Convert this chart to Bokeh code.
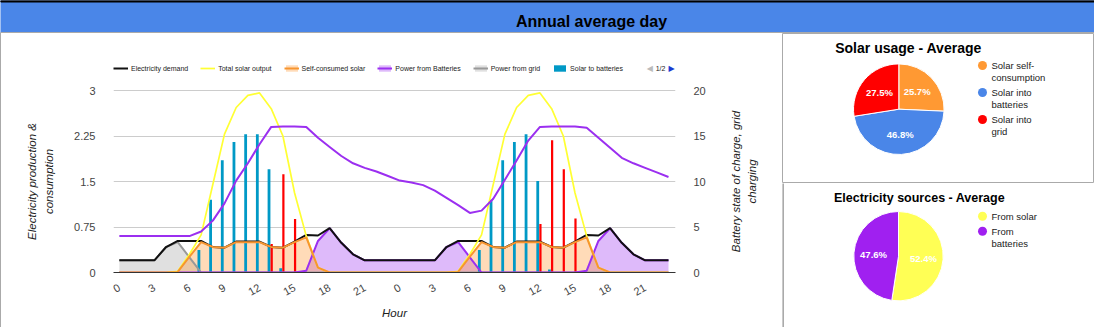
import math
from bokeh.plotting import figure
from bokeh.models import (Range1d, LinearAxis, FixedTicker, Legend, LegendItem,
                          ColumnDataSource, Spacer, NumeralTickFormatter)
from bokeh.layouts import column, row
from bokeh.transform import dodge
from bokeh.embed import file_html
from bokeh.resources import INLINE
from bokeh.core.properties import value

FONT = "Liberation Sans"

# ---------------- data ----------------
hours = list(range(48))
demand = [0.2, 0.2, 0.2, 0.2, 0.42, 0.52, 0.52, 0.52, 0.42, 0.41, 0.51, 0.51, 0.51, 0.42, 0.41, 0.51,
          0.62, 0.61, 0.73, 0.49, 0.3, 0.2, 0.2, 0.2,
          0.2, 0.2, 0.2, 0.2, 0.42, 0.52, 0.52, 0.52, 0.42, 0.41, 0.51, 0.51, 0.51, 0.42, 0.41, 0.51,
          0.62, 0.61, 0.73, 0.49, 0.3, 0.2, 0.2, 0.2]
solar_total = [0, 0, 0, 0, 0, 0.02, 0.3, 0.62, 1.45, 2.28, 2.72, 2.92, 2.96, 2.7, 2.25, 1.31,
               0.6, 0.08, 0, 0, 0, 0, 0, 0,
               0, 0, 0, 0, 0, 0.02, 0.3, 0.62, 1.45, 2.28, 2.72, 2.92, 2.96, 2.7, 2.25, 1.31,
               0.6, 0.08, 0, 0, 0, 0, 0, 0]
self_consumed = [0, 0, 0, 0, 0, 0.01, 0.26, 0.5, 0.42, 0.41, 0.5, 0.5, 0.5, 0.42, 0.41, 0.5,
                 0.58, 0.08, 0, 0, 0, 0, 0, 0,
                 0, 0, 0, 0, 0, 0.01, 0.26, 0.5, 0.42, 0.41, 0.5, 0.5, 0.5, 0.42, 0.41, 0.5,
                 0.58, 0.08, 0, 0, 0, 0, 0, 0]
from_batteries = [0, 0, 0, 0, 0, 0, 0, 0, 0, 0, 0, 0, 0, 0, 0, 0,
                  0.03, 0.52, 0.73, 0.49, 0.3, 0.2, 0.2, 0.2,
                  0.2, 0.2, 0.2, 0.2, 0.42, 0.5, 0.25, 0, 0, 0, 0, 0, 0, 0, 0, 0,
                  0.03, 0.52, 0.73, 0.49, 0.3, 0.2, 0.2, 0.2]
from_grid = [0.2, 0.2, 0.2, 0.2, 0.42, 0.5, 0.25, 0, 0, 0, 0, 0, 0, 0, 0, 0,
             0, 0, 0, 0, 0, 0, 0, 0,
             0, 0, 0, 0, 0, 0, 0, 0, 0, 0, 0, 0, 0, 0, 0, 0,
             0, 0, 0, 0, 0, 0, 0, 0]
solar_to_batteries = [0, 0, 0, 0, 0, 0, 0, 0.37, 1.2, 1.85, 2.15, 2.28, 2.28, 1.7, 0.07, 0,
                      0, 0, 0, 0, 0, 0, 0, 0,
                      0, 0, 0, 0, 0, 0, 0, 0.37, 1.2, 1.85, 2.15, 2.28, 1.51, 0.05, 0, 0,
                      0, 0, 0, 0, 0, 0, 0, 0]
solar_to_grid = [0, 0, 0, 0, 0, 0, 0, 0, 0, 0, 0, 0, 0, 0.47, 1.62, 0.88,
                 0, 0, 0, 0, 0, 0, 0, 0,
                 0, 0, 0, 0, 0, 0, 0, 0, 0, 0, 0, 0, 0.8, 2.18, 1.7, 0.89,
                 0, 0, 0, 0, 0, 0, 0, 0]
battery_soc = [4.0, 4.0, 4.0, 4.0, 4.0, 4.0, 4.0, 4.5, 5.7, 7.6, 10.1, 12.0, 14.1, 16.0, 16.05, 16.05,
               16.0, 14.8, 13.8, 12.8, 12.0, 11.5, 11.1, 10.6,
               10.1, 9.9, 9.6, 9.0, 8.2, 7.4, 6.55, 6.8, 8.1, 10.2, 12.3, 14.5, 16.0, 16.05, 16.05, 16.05,
               15.9, 14.8, 13.7, 12.6, 12.0, 11.5, 11.0, 10.5]

x_ticks = [0, 3, 6, 9, 12, 15, 18, 21, 24, 27, 30, 33, 36, 39, 42, 45]
x_tick_labels = ["0", "3", "6", "9", "12", "15", "18", "21", "0", "3", "6", "9", "12", "15", "18", "21"]
y_ticks = [0, 0.75, 1.5, 2.25, 3]
y2_ticks = [0, 5, 10, 15, 20]

series_names = ["Electricity demand", "Total solar output", "Self-consumed solar",
                "Power from Batteries", "Power from grid", "Solar to batteries"]
y_title = "Electricity production &\nconsumption"
y2_title = "Battery state of charge, grid\ncharging"
x_title = "Hour"

usage_labels = ["Solar self-\nconsumption", "Solar into\nbatteries", "Solar into\ngrid"]
usage_values = [25.7, 46.8, 27.5]
usage_colors = ["#ff9933", "#4a86e8", "#ff0000"]
sources_labels = ["From solar", "From\nbatteries"]
sources_values = [52.4, 47.6]
sources_colors = ["#ffff55", "#a020f0"]

# ---------------- colors ----------------
C_BLACK = "#111111"
C_YELLOW = "#ffff33"
C_ORANGE = "#f7952f"
C_ORANGE_FILL = "#ff9933"
C_PURPLE = "#9b2ff0"
C_GRAY = "#999999"
C_BLUE = "#0099c6"
C_RED = "#ff0000"

src = ColumnDataSource(dict(h=hours, demand=demand, solar=solar_total, selfc=self_consumed,
                            batt=from_batteries, grid=from_grid, s2b=solar_to_batteries,
                            s2g=solar_to_grid, soc=battery_soc))

# ---------------- geometry (page pixels) ----------------
PANEL_TOP, PANEL_BOTTOM = 33, 327
FRAME_TOP, FRAME_BOTTOM = 56, 272      # plot frame (extra room on top holds the legend)
GRID_TOP = 90                          # pixel row of the "3" gridline
Y_MAX = 3 * (FRAME_BOTTOM - FRAME_TOP) / (FRAME_BOTTOM - GRID_TOP)
Y2_MAX = 20 / 3 * Y_MAX
PH = PANEL_BOTTOM - PANEL_TOP
LEFT_W, P_W, RIGHT_W = 61, 658, 62
MB_TOP, MB_BOTTOM = FRAME_TOP - PANEL_TOP, PANEL_BOTTOM - FRAME_BOTTOM

# ---------------- main chart ----------------
p = figure(width=P_W, height=PH, x_range=Range1d(-0.5, 47.6), y_range=Range1d(0, Y_MAX),
           output_backend="svg", toolbar_location=None,
           min_border_left=51, min_border_right=45, min_border_top=MB_TOP,
           min_border_bottom=MB_BOTTOM, outline_line_color=None)
p.extra_y_ranges = {"soc": Range1d(0, Y2_MAX)}

a_grid = p.varea(x="h", y1=0, y2="grid", source=src, fill_color=C_GRAY, fill_alpha=0.3)
a_batt = p.varea(x="h", y1=0, y2="batt", source=src, fill_color=C_PURPLE, fill_alpha=0.33)
a_self = p.varea(x="h", y1=0, y2="selfc", source=src, fill_color=C_ORANGE_FILL, fill_alpha=0.35)

b_s2b = p.vbar(x=dodge("h", -0.19, range=p.x_range), top="s2b", width=0.24, source=src,
               fill_color=C_BLUE, line_color=None)
p.vbar(x=dodge("h", 0.04, range=p.x_range), top="s2g", width=0.19, source=src,
       fill_color=C_RED, line_color=None)

l_grid = p.line(x="h", y="grid", source=src, line_color=C_GRAY, line_width=2)
l_batt = p.line(x="h", y="batt", source=src, line_color=C_PURPLE, line_width=2)
l_dem = p.line(x="h", y="demand", source=src, line_color=C_BLACK, line_width=2)
l_sol = p.line(x="h", y="solar", source=src, line_color=C_YELLOW, line_width=1.7)
l_self = p.line(x="h", y="selfc", source=src, line_color=C_ORANGE, line_width=2)
p.line(x="h", y="soc", source=src, line_color=C_PURPLE, line_width=2, y_range_name="soc")

# axes
p.xaxis.ticker = FixedTicker(ticks=x_ticks)
p.xaxis.major_label_overrides = dict(zip(x_ticks, x_tick_labels))
p.xaxis.major_label_orientation = math.pi / 6
p.xaxis.axis_label = x_title
p.xaxis.axis_line_color = "#333333"
p.xaxis.major_tick_line_color = None
p.xaxis.minor_tick_line_color = None
p.xaxis.major_label_standoff = 8
p.xaxis.axis_label_standoff = 4

p.yaxis.ticker = FixedTicker(ticks=y_ticks)
p.yaxis.formatter = NumeralTickFormatter(format="0.[00]")
p.yaxis.axis_line_color = None
p.yaxis.major_tick_line_color = None
p.yaxis.minor_tick_line_color = None
p.yaxis.major_label_standoff = 12

ax2 = LinearAxis(y_range_name="soc", ticker=FixedTicker(ticks=y2_ticks))
ax2.axis_line_color = None
ax2.major_tick_line_color = None
ax2.minor_tick_line_color = None
ax2.major_label_standoff = 12
p.add_layout(ax2, "right")

for ax in [p.xaxis[0], p.yaxis[0], ax2]:
    ax.major_label_text_font = FONT
    ax.major_label_text_font_size = "11px"
    ax.major_label_text_color = "#444444"
    ax.axis_label_text_font = FONT
    ax.axis_label_text_font_size = "11.5px"
    ax.axis_label_text_font_style = "italic"
    ax.axis_label_text_color = "#222222"

p.xgrid.visible = False
p.ygrid.ticker = FixedTicker(ticks=y_ticks)
p.ygrid.grid_line_color = "#cccccc"

legend = Legend(items=[
    LegendItem(label=series_names[0], renderers=[l_dem]),
    LegendItem(label=series_names[1], renderers=[l_sol]),
    LegendItem(label=series_names[2], renderers=[a_self, l_self]),
    LegendItem(label=series_names[3], renderers=[a_batt, l_batt]),
    LegendItem(label=series_names[4], renderers=[a_grid, l_grid]),
    LegendItem(label=series_names[5], renderers=[b_s2b]),
], orientation="horizontal", location=(0, 200), glyph_width=15, glyph_height=8,
    label_text_font=FONT, label_text_font_size="7px", label_text_color="#222222",
    label_standoff=3, spacing=12, padding=0, margin=0, border_line_color=None,
    background_fill_alpha=0, label_height=8)
p.add_layout(legend)

pager_y = 3 * (FRAME_BOTTOM - 68) / (FRAME_BOTTOM - GRID_TOP)
p.text(x=[45.15], y=[pager_y], text=["\u25c0"], text_color="#bbbbbb", text_font_size="8px",
       text_font=value("DejaVu Sans"), text_baseline="middle", text_align="left")
p.text(x=[45.9], y=[pager_y], text=["1/2"], text_color="#222222", text_font_size="7px",
       text_font=value(FONT), text_baseline="middle", text_align="left")
p.text(x=[47.0], y=[pager_y], text=["\u25b6"], text_color="#1a3cd0", text_font_size="8px",
       text_font=value("DejaVu Sans"), text_baseline="middle", text_align="left")


# ---------------- side figures holding the axis titles ----------------
def title_fig(x0, w, text, cx):
    f = figure(width=w, height=PH, x_range=Range1d(x0, x0 + w),
               y_range=Range1d(-FRAME_BOTTOM, -FRAME_TOP), x_axis_type=None, y_axis_type=None,
               min_border_left=0, min_border_right=0, min_border_top=MB_TOP,
               min_border_bottom=MB_BOTTOM, toolbar_location=None, output_backend="svg",
               outline_line_color=None)
    f.text(x=[cx], y=[-181], text=[text], angle=math.pi / 2, text_font=value(FONT),
           text_font_size="11.5px", text_font_style="italic", text_color="#222222",
           text_align="center", text_baseline="middle", text_line_height=1.4)
    return f


lfig = title_fig(1, LEFT_W, y_title, 40)
rfig = title_fig(1 + LEFT_W + P_W, RIGHT_W, y2_title, 743.5)


# ---------------- pies ----------------
def pie_figure(h, y_top, title, title_size, title_xy, cx, cy, r, vals, colors, labels,
               leg_y0, outline):
    f = figure(width=312, height=h, x_range=Range1d(782, 1094), y_range=Range1d(-(y_top + h), -y_top),
               x_axis_type=None, y_axis_type=None, min_border=0, toolbar_location=None,
               output_backend="svg", outline_line_color="#aaaaaa" if outline else None)
    if not outline:
        f.quad(left=782, right=783, top=-y_top, bottom=-(y_top + h), color="#aaaaaa")
    total = sum(vals)
    starts, ends, mids = [], [], []
    cum = 0
    for v in vals:
        s = math.pi / 2 - 2 * math.pi * cum / total
        cum += v
        e = math.pi / 2 - 2 * math.pi * cum / total
        starts.append(s); ends.append(e); mids.append((s + e) / 2)
    f.wedge(x=cx, y=-cy, radius=r, start_angle=starts, end_angle=ends, direction="clock",
            fill_color=colors, line_color="white", line_width=1)
    k = 0.56
    f.text(x=[cx + k * r * math.cos(m) for m in mids], y=[-cy + k * r * math.sin(m) for m in mids],
           text=[f"{v:.1f}%" for v in vals], text_color="white", text_font=value(FONT),
           text_font_size="9.5px", text_font_style="bold", text_align="center", text_baseline="middle")
    f.text(x=[title_xy[0]], y=[-title_xy[1]], text=[title], text_font=value(FONT),
           text_font_size=title_size, text_font_style="bold", text_align="center",
           text_baseline="middle", text_color="#000000")
    cxs, cys, tx, ty, tt = [], [], [], [], []
    y = leg_y0
    for lab in labels:
        lines = lab.split("\n")
        cxs.append(982); cys.append(-y)
        for j, ln in enumerate(lines):
            tx.append(991); ty.append(-(y + j * 12)); tt.append(ln)
        y += (len(lines) - 1) * 12 + 15
    f.scatter(x=cxs, y=cys, size=9, marker="circle", fill_color=colors, line_color=None)
    f.text(x=tx, y=ty, text=tt, text_font=value(FONT), text_font_size="9.5px",
           text_align="left", text_baseline="middle", text_color="#222222")
    return f


pie1 = pie_figure(150, 33, "Solar usage - Average", "14px", (908, 47), 898.3, 108.7, 45.3,
                  usage_values, usage_colors, usage_labels, 65, True)
pie2 = pie_figure(144, 183, "Electricity sources - Average", "12.5px", (919, 197), 898, 255.7, 44.7,
                  sources_values, sources_colors, sources_labels, 215.7, False)

# ---------------- header ----------------
hdr = figure(width=1094, height=33, x_range=Range1d(0, 1094), y_range=Range1d(-33, 0),
             x_axis_type=None, y_axis_type=None, min_border=0, toolbar_location=None,
             output_backend="svg", background_fill_color="#4a86e8", border_fill_color="#4a86e8",
             outline_line_color=None)
hdr.quad(left=0, right=1094, top=0, bottom=-1.5, color="black")
hdr.quad(left=0, right=1094, top=-32, bottom=-33, color="#aaaaaa")
hdr.text(x=[591], y=[-20.5], text=["Annual average day"], text_font=value(FONT),
         text_font_style="bold", text_font_size="16px", text_align="center",
         text_baseline="middle", text_color="black")

left_border = Spacer(width=1, height=PH, styles={"background-color": "#aaaaaa"})
layout = column(hdr, row(left_border, lfig, p, rfig, column(pie1, pie2)))

open("out.html", "w").write(file_html(layout, INLINE))
